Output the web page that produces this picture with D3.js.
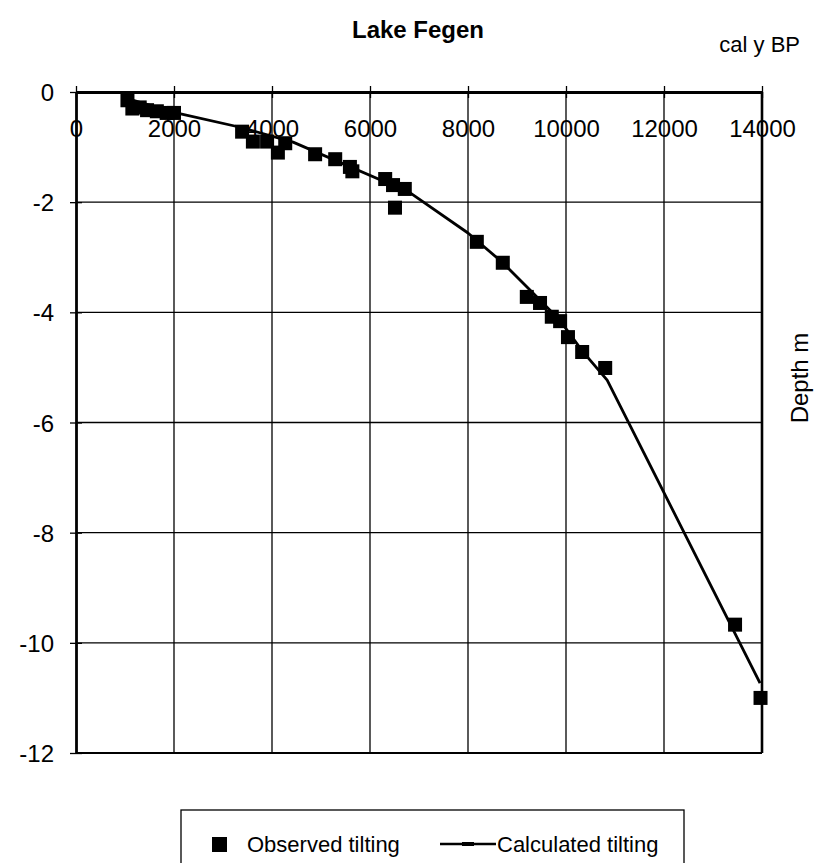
<!DOCTYPE html>
<html><head><meta charset="utf-8">
<script src="https://cdn.jsdelivr.net/npm/d3@7"></script>
<style>
body{margin:0;background:#fff;}
svg{display:block;font-family:"Liberation Sans",Arial,Helvetica,sans-serif;}
</style></head>
<body><svg id="c" width="834" height="863"></svg>
<script>
// Observed tilting (cal y BP, depth m)
const obsAge   = [1050,1150,1300,1450,1650,1850,2000,3390,3610,3900,4120,4270,4880,5290,5590,5640,6310,6470,6510,6710,8180,8710,9200,9470,9710,9880,10040,10330,10800,13450,13970];
const obsDepth = [-0.15,-0.30,-0.28,-0.33,-0.35,-0.38,-0.38,-0.72,-0.90,-0.90,-1.10,-0.93,-1.13,-1.22,-1.36,-1.44,-1.58,-1.69,-2.10,-1.76,-2.72,-3.10,-3.72,-3.83,-4.08,-4.16,-4.45,-4.72,-5.01,-9.67,-11.0];
// Calculated tilting
const calcAge   = [1050,2000,3350,4430,6820,8000,8710,9270,9880,10330,10840,13960];
const calcDepth = [-0.12,-0.37,-0.64,-0.91,-1.83,-2.56,-3.10,-3.60,-4.15,-4.70,-5.23,-10.73];
const xTicks = [0,2000,4000,6000,8000,10000,12000,14000];
const yTicks = [0,-2,-4,-6,-8,-10,-12];
const title = "Lake Fegen";
const xLabel = "cal y BP";
const yLabel = "Depth m";
const legendLabels = ["Observed tilting","Calculated tilting"];

const svg = d3.select("#c");
const x = d3.scaleLinear().domain([0,14000]).range([76,762]);
const y = d3.scaleLinear().domain([-12,0]).range([753,92]);

// grid
svg.append("g").selectAll("line").data(xTicks.slice(1,-1)).join("line")
  .attr("x1",d=>x(d)).attr("x2",d=>x(d)).attr("y1",y(0)).attr("y2",y(-12))
  .attr("stroke","#000").attr("stroke-width",1.3);
svg.append("g").selectAll("line").data(yTicks.slice(1,-1)).join("line")
  .attr("x1",x(0)).attr("x2",x(14000)).attr("y1",d=>y(d)).attr("y2",d=>y(d))
  .attr("stroke","#000").attr("stroke-width",1.3);
// right & bottom border
svg.append("line").attr("x1",x(14000)).attr("x2",x(14000)).attr("y1",y(0)).attr("y2",y(-12)).attr("stroke","#000").attr("stroke-width",2.6);
svg.append("line").attr("x1",x(0)).attr("x2",x(14000)).attr("y1",y(-12)).attr("y2",y(-12)).attr("stroke","#000").attr("stroke-width",2);

// x axis (top, at depth 0)
const xa = svg.append("g").attr("transform",`translate(0,${y(0)})`)
  .call(d3.axisBottom(x).tickValues(xTicks).tickSize(6).tickSizeOuter(0).tickFormat(d=>String(d)));
xa.select(".domain").attr("stroke-width",2.8);
xa.selectAll(".tick line").attr("y1",-6).attr("y2",6).attr("stroke-width",1.3);
xa.selectAll(".tick text").attr("y",45).attr("dy",0).attr("font-size",24).attr("fill","#000");

// y axis
const ya = svg.append("g").attr("transform",`translate(${x(0)},0)`)
  .call(d3.axisLeft(y).tickValues(yTicks).tickSize(6).tickSizeOuter(0).tickFormat(d=>String(d)));
ya.select(".domain").attr("stroke-width",2.8);
ya.selectAll(".tick line").attr("x1",-6).attr("x2",6).attr("stroke-width",1.3);
ya.selectAll(".tick text").attr("x",-22).attr("dy","0.36em").attr("font-size",24).attr("fill","#000");

// calculated line
const calc = calcAge.map((a,i)=>[a,calcDepth[i]]);
svg.append("path").datum(calc)
  .attr("d",d3.line().x(d=>x(d[0])).y(d=>y(d[1])))
  .attr("fill","none").attr("stroke","#000").attr("stroke-width",2.8).attr("stroke-linejoin","round");

// observed points
const obs = obsAge.map((a,i)=>[a,obsDepth[i]]);
const s = 14;
svg.append("g").selectAll("rect").data(obs).join("rect")
  .attr("x",d=>x(d[0])-s/2).attr("y",d=>y(d[1])-s/2).attr("width",s).attr("height",s).attr("fill","#000");

// title and labels
svg.append("text").attr("x",418).attr("y",38).attr("text-anchor","middle")
  .attr("font-size",24).attr("font-weight","bold").text(title);
svg.append("text").attr("x",800).attr("y",52).attr("text-anchor","end")
  .attr("font-size",22).text(xLabel);
svg.append("text").attr("transform","translate(808,378) rotate(-90)").attr("text-anchor","middle")
  .attr("font-size",24).text(yLabel);

// legend
const lg = svg.append("g");
lg.append("rect").attr("x",181).attr("y",810).attr("width",503).attr("height",80)
  .attr("fill","none").attr("stroke","#000").attr("stroke-width",1.3);
lg.append("rect").attr("x",212).attr("y",837).attr("width",15).attr("height",15).attr("fill","#000");
lg.append("text").attr("x",247).attr("y",852).attr("font-size",22).text(legendLabels[0]);
lg.append("line").attr("x1",440).attr("x2",496).attr("y1",844).attr("y2",844).attr("stroke","#000").attr("stroke-width",2.5);
lg.append("rect").attr("x",462).attr("y",842).attr("width",12).attr("height",4).attr("fill","#000");
lg.append("text").attr("x",497).attr("y",852).attr("font-size",22).text(legendLabels[1]);
</script></body></html>
